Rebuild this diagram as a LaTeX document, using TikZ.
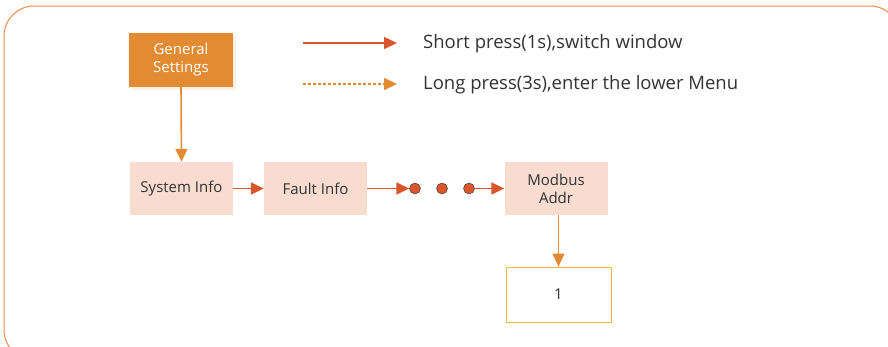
\documentclass[tikz,border=0pt]{standalone}
\usepackage{fontspec}
\setmainfont{Open Sans}
\usetikzlibrary{arrows.meta,shadows}
\definecolor{frameor}{HTML}{F08A4B}
\definecolor{redor}{HTML}{D9552B}
\definecolor{gold}{HTML}{E38B33}
\definecolor{pinkbox}{HTML}{F9DCD0}
\definecolor{yel}{HTML}{F5B83D}
\definecolor{txt}{HTML}{333333}
\begin{document}
\begin{tikzpicture}[x=1pt,y=-1pt,
  menubox/.style={fill=pinkbox,minimum width=103pt,minimum height=53pt,inner sep=0pt,align=center,font=\fontsize{15}{18}\selectfont,text=txt},
  headbox/.style={fill=gold,minimum width=104pt,minimum height=54pt,inner sep=0pt,align=center,font=\fontsize{15}{18}\selectfont,text=white,drop shadow={shadow xshift=3pt,shadow yshift=-3pt,fill=gold!12,opacity=1}},
  valbox/.style={draw=yel,line width=0.8pt,fill=white,minimum width=105pt,minimum height=55pt,inner sep=0pt,font=\fontsize{15}{18}\selectfont,text=txt},
  shortarr/.style={draw=redor,line width=1.6pt,-{Triangle[length=13pt,width=12pt]}},
  longarr/.style={draw=gold,line width=1.6pt,-{Triangle[length=13pt,width=12pt]}},
  dotnode/.style={circle,fill=redor,draw=txt,line width=0.4pt,minimum size=11pt,inner sep=0pt},
  legtext/.style={anchor=west,font=\fontsize{18.5}{21}\selectfont,text=txt,inner sep=0pt}]
\useasboundingbox (0,0) rectangle (888,346);
\draw[frameor,line width=1pt,rounded corners=30pt] (4,6) rectangle (900,360);
% legend
\coordinate (ls1) at (303,43);
\coordinate (le1) at (397,43);
\coordinate (ls2) at (303,84);
\coordinate (le2) at (397,84);
\draw[shortarr] (ls1) -- (le1);
\draw[gold,line width=1.6pt,dash pattern=on 3pt off 2pt] (ls2) -- (385,84);
\draw[longarr] (384,84) -- (le2);
\node[legtext] (l1) at (423,44) {Short press(1s),switch window};
\node[legtext] (l2) at (423,85) {Long press(3s),enter the lower Menu};
% nodes
\node[headbox] (gs) at (181,60) {General\\Settings};
\node[menubox] (si) at (181.5,188.5) {System Info};
\node[menubox] (fi) at (315.5,188.5) {Fault Info};
\node[dotnode] (d1) at (415,188.5) {};
\node[dotnode] (d2) at (442,188.5) {};
\node[dotnode] (d3) at (469,188.5) {};
\node[menubox] (mb) at (556,188.5) {Modbus\\Addr};
\node[valbox] (v1) at (558.5,294.5) {1};
% connectors
\draw[longarr] (gs.south) -- (si.north);
\draw[shortarr] (si.east) -- (fi.west);
\draw[shortarr] (fi.east) -- (d1.west);
\draw[shortarr] (d3.east) -- (mb.west);
\draw[longarr] (mb.south -| v1.north) -- (v1.north);
\end{tikzpicture}
\end{document}
